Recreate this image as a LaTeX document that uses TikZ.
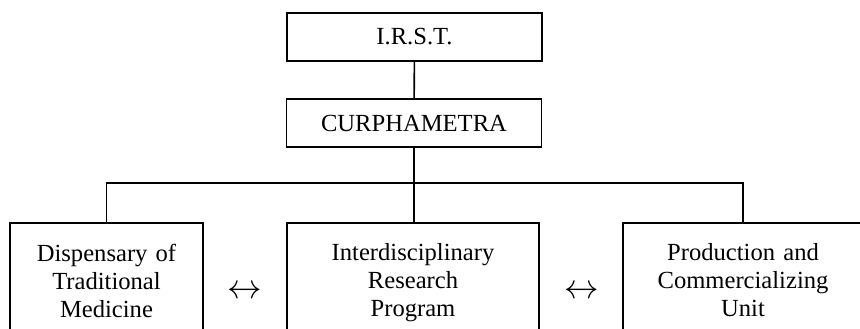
\documentclass[tikz,border=0pt]{standalone}
\usepackage{fontspec}
\setmainfont{Liberation Serif}

\begin{document}
\begin{tikzpicture}[x=0.5pt, y=-0.5pt, line width=0.8pt,
		every node/.style={font=\fontsize{12.3}{14}\selectfont},
		top/.style={draw, minimum width=127.5pt, minimum height=24pt, inner sep=0pt},
		unit/.style={draw, anchor=north, align=center, inner xsep=2pt, inner ysep=10.5pt},
		link/.style={font=\fontsize{17.5}{20}\selectfont, inner sep=0pt}]
			\useasboundingbox (0, 0) rectangle (860, 328);
			\clip (0, 0) rectangle (860, 328);

			\node[top] (irst) at (414.5, 37) {I.R.S.T.};
			\node[top] (curph) at (414, 123) {CURPHAMETRA};
			\coordinate (bar) at (414, 183);

			\node[unit, text width=92.5pt] (disp) at (106.5, 222) {Dispensary of\\ Traditional\\ Medicine};
			\node[unit, text width=122pt] (inter) at (413, 222) {Interdisciplinary\\ Research\\ Program};
			\node[unit, text width=116pt] (prod) at (743, 222) {Production and\\ Commercializing\\ Unit};

			\node[link] (l1) at (245, 292.5) {$\leftrightarrow$};
			\node[link] (l2) at (581.5, 292.5) {$\leftrightarrow$};

			\draw (irst) -- (curph);
			\draw (curph) -- (bar);
			\draw (disp.north) |- (bar) -| (prod.north);
			\draw (bar) -- (bar |- inter.north);
		\end{tikzpicture}
\end{document}
